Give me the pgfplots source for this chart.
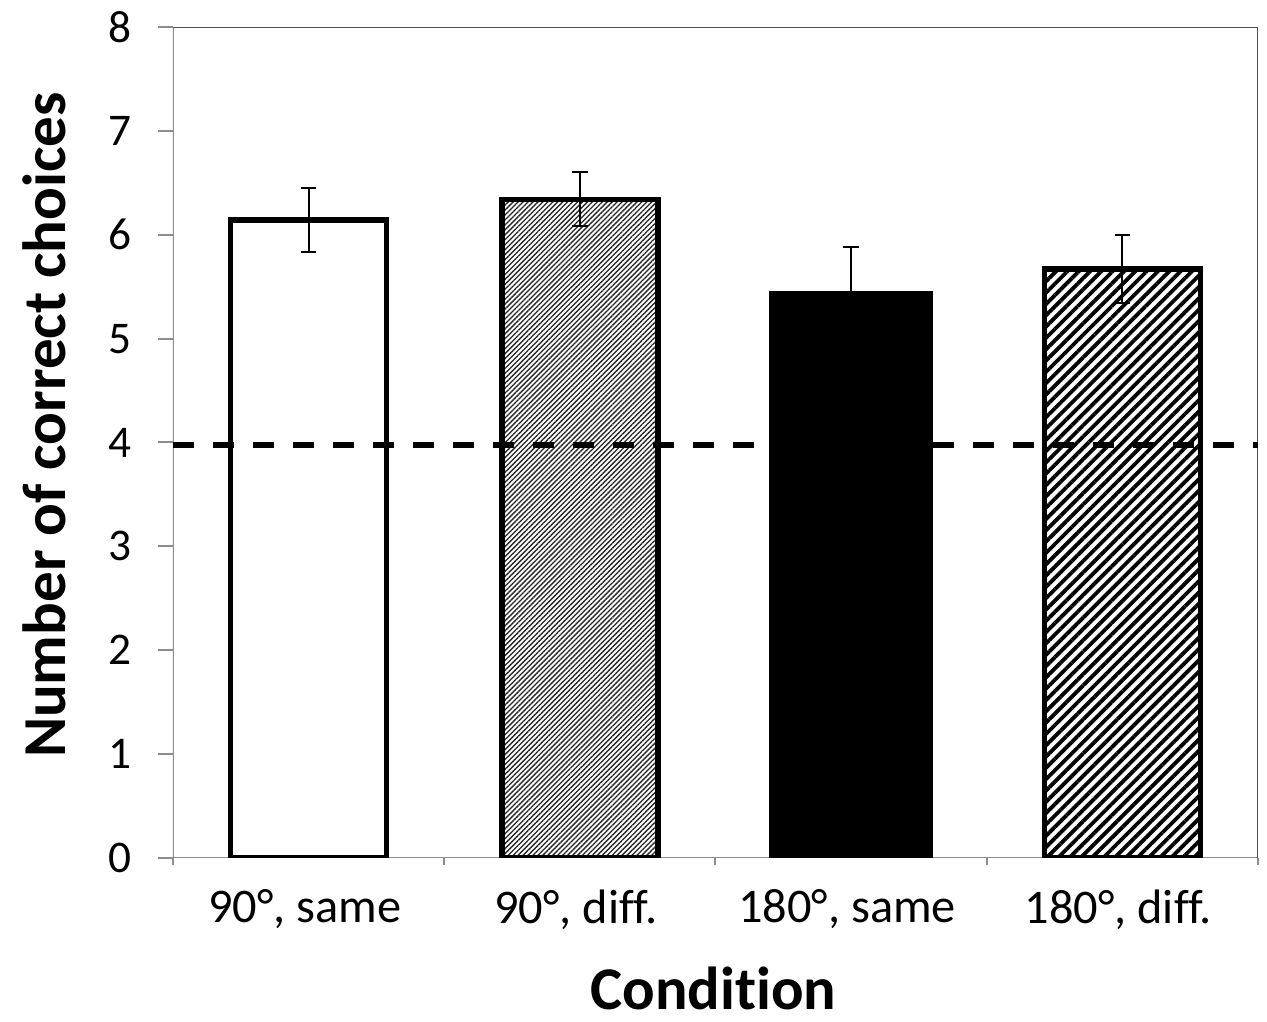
\documentclass[border=0pt]{standalone}
\usepackage{pgfplots}
\pgfplotsset{compat=1.18}
\usepackage{fontspec}
\setmainfont[Ligatures=NoCommon]{Carlito}
\usetikzlibrary{patterns.meta}
\definecolor{axgray}{HTML}{8C8C8C}
\definecolor{boxgray}{HTML}{505050}
\begin{document}
\begin{tikzpicture}
\path[use as bounding box] (-51.9pt,-49.2pt) rectangle (328.2pt,257.4pt);
\begin{axis}[
  at={(0,0)}, anchor=south west, scale only axis,
  width=325.5pt, height=249.3pt,
  xmin=-0.5, xmax=3.5, ymin=0, ymax=8,
  ytick={0,1,2,3,4,5,6,7,8},
  xtick={0,1,2,3},
  xticklabels={{90°, same},{90°, diff.},{180°, same},{180°, diff.}},
  minor xtick={-0.5,0.5,1.5,2.5,3.5},
  xtick pos=bottom, ytick pos=left,
  tick align=outside,
  major tick length=4.5pt, minor tick length=2pt,
  major x tick style={draw=none},
  tick style={color=axgray, line width=0.6pt},
  axis line style={draw=none},
  /pgf/number format/assume math mode=true,
  yticklabel style={font=\fontsize{13.6}{16}\selectfont, xshift=-4.5pt},
  xticklabel style={font=\fontsize{14.5}{17}\selectfont, yshift=-1.5pt, xshift=-1.2pt},
  xlabel={Condition},
  ylabel={Number of correct choices},
  xlabel style={font=\fontsize{18.2}{22}\selectfont\bfseries, inner sep=0pt, at={(axis description cs:0.498,-0.157)}, anchor=center},
  ylabel style={font=\fontsize{18.3}{22}\selectfont\bfseries, inner sep=0pt, at={(axis description cs:-0.119,0.521)}, anchor=center, rotate=0},
  error bars/y dir=both, error bars/y explicit,
  error bars/error bar style={line width=0.6pt, black},
  error bars/error mark options={black, line width=0.6pt, mark size=2.3pt, rotate=90},
]
% axis frame
\draw[axgray, line width=0.7pt] (rel axis cs:0,1) -- (rel axis cs:0,0) -- (rel axis cs:1,0);
\draw[boxgray, line width=0.8pt] (rel axis cs:0,1) -- (rel axis cs:1,1) -- (rel axis cs:1,0);
% bars
\addplot[ybar, bar shift=0pt, bar width=0.575, draw=black, line width=1.7pt, fill=white]
  coordinates {(0,6.14) +- (0,0.31)};
\addplot[ybar, bar shift=0pt, bar width=0.575, draw=black, line width=1.7pt, fill=white,
  postaction={pattern={Lines[angle=45, distance=1.05pt, line width=0.4pt]}, pattern color=black!85}]
  coordinates {(1,6.34) +- (0,0.26)};
\addplot[ybar, bar shift=0pt, bar width=0.6, draw=black, line width=0.6pt, fill=black]
  coordinates {(2,5.45) +- (0,0.43)};
\addplot[ybar, bar shift=0pt, bar width=0.575, draw=black, line width=1.7pt, fill=white,
  postaction={pattern={Lines[angle=45, distance=2.4pt, line width=1.15pt]}, pattern color=black}]
  coordinates {(3,5.67) +- (0,0.33)};
% chance line
\addplot[black, line width=1.8pt, dash pattern=on 6.4pt off 5.6pt] coordinates {(-0.5,3.98) (3.5,3.98)};
\end{axis}
\end{tikzpicture}
\end{document}
